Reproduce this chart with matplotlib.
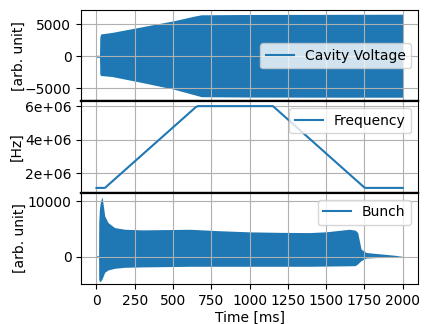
import matplotlib
matplotlib.use("Agg")
import matplotlib.pyplot as plt
from matplotlib.ticker import FormatStrFormatter

# cavity voltage envelope (ms, upper, lower)
cav_t = [0, 20, 22, 28, 100, 300, 500, 640, 685, 1000, 1500, 2000]
cav_hi = [150, 150, 3000, 3470, 3700, 4600, 5500, 6250, 6450, 6500, 6520, 6540]
cav_lo = [-150, -150, -2800, -3000, -3150, -4100, -5100, -6000, -6300, -6350, -6370, -6380]

# frequency programme
freq_t = [0, 50, 59, 70, 650, 663, 1152, 1165, 1750, 1761, 2000]
freq_hz = [1.13e6, 1.13e6, 1.15e6, 1.25e6, 5.95e6, 6.0e6, 6.0e6, 5.9e6, 1.15e6, 1.13e6, 1.13e6]

# bunch signal envelope
bun_t = [-5, 14, 15, 19, 26, 37, 54, 76, 119, 185, 300, 450, 609, 800, 1000, 1200,
         1391, 1500, 1652, 1690, 1706, 1728, 1761, 1800, 1869, 1950, 2000]
bun_hi = [150, 150, 6000, 8550, 10000, 10830, 7360, 6160, 5260, 4960, 4850, 4900, 4960,
          4700, 4490, 4400, 4360, 4500, 4960, 4800, 4360, 1370, 770, 650, 470, 250, 50]
bun_lo = [-150, -150, -4130, -4400, -4490, -4000, -2820, -2400, -2100, -1920, -1850,
          -1800, -1740, -1740, -1740, -1740, -1740, -1700, -1650, -1620, -1300, -720,
          -250, -200, -100, -50, 0]

fig, axs = plt.subplots(3, 1, sharex=True, figsize=(4.27, 3.24), dpi=100)
fig.subplots_adjust(left=0.19, right=0.979, top=0.969, bottom=0.123, hspace=0)

ax = axs[0]
ax.fill_between(cav_t, cav_lo, cav_hi, color="C0", lw=0)
ax.plot([], [], color="C0", label="Cavity Voltage")
ax.set_ylim(-7030, 7190)
ax.set_ylabel("[arb. unit]")
ax.yaxis.set_label_coords(-0.165, 0.5)
ax.legend(loc="center right")
ax.grid(True)
ax.spines["bottom"].set_linewidth(1.6)

ax = axs[1]
ax.plot(freq_t, freq_hz, color="C0", label="Frequency")
ax.yaxis.set_major_formatter(FormatStrFormatter("%.0e"))
ax.set_yticks([2e6, 4e6, 6e6])
ax.set_ylim(0.84e6, 6.28e6)
ax.set_ylabel("[Hz]")
ax.yaxis.set_label_coords(-0.172, 0.5)
ax.legend(loc="upper right")
ax.grid(True)
ax.spines["top"].set_linewidth(1.6)
ax.spines["bottom"].set_linewidth(1.6)

ax = axs[2]
ax.fill_between(bun_t, bun_lo, bun_hi, color="C0", lw=0)
ax.plot([], [], color="C0", label="Bunch")
ax.set_yticks([0, 10000])
ax.set_ylim(-4970, 11560)
ax.set_ylabel("[arb. unit]")
ax.yaxis.set_label_coords(-0.162, 0.5)
ax.set_xlabel("Time [ms]", labelpad=2)
ax.legend(loc="upper right")
ax.grid(True)
ax.spines["top"].set_linewidth(1.6)
ax.set_xlim(-100, 2100)
ax.set_xticks([0, 250, 500, 750, 1000, 1250, 1500, 1750, 2000])

fig.savefig("out.png", dpi=100)
